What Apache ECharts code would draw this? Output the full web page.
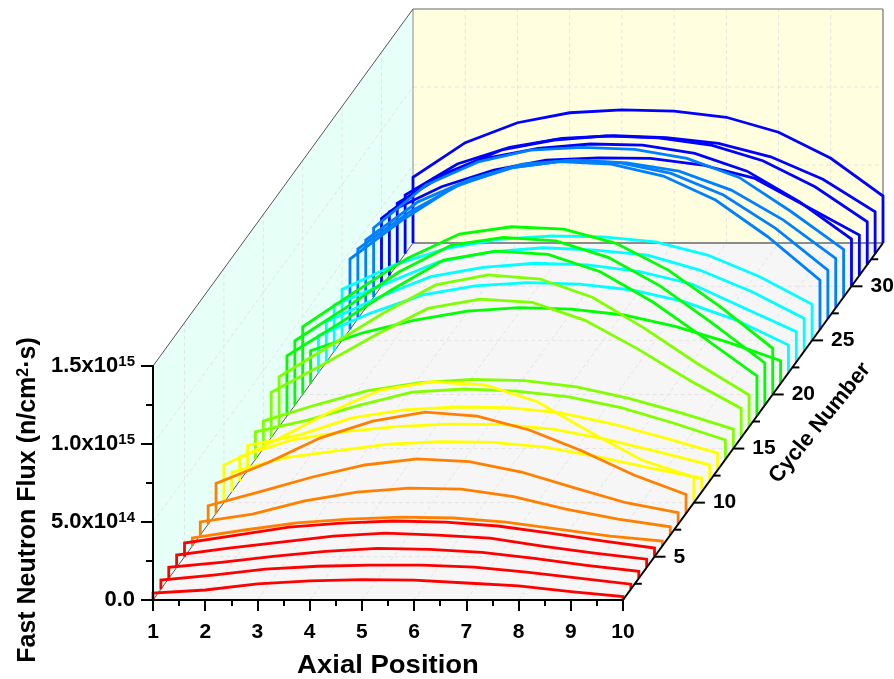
<!DOCTYPE html>
<html>
<head>
<meta charset="utf-8">
<style>html,body{margin:0;padding:0;background:#fff}#c{width:894px;height:679px}</style>
<script src="https://cdn.jsdelivr.net/npm/echarts@6/dist/echarts.min.js"></script>
</head>
<body>
<div id="c"></div>
<script>
// Flux values for each cycle, in units of 1e14 n/cm2/s, axial positions 1..10
const axialPositions = [1,2,3,4,5,6,7,8,9,10];
const cycle1  = [.45,.64,1.03,1.22,1.30,1.28,1.09,.90,.53,.22];
const cycle2  = [.58,.90,1.28,1.47,1.54,1.54,1.41,1.09,.71,.32];
const cycle3  = [.71,1.03,1.41,1.73,1.92,1.86,1.67,1.28,.83,.45];
const cycle4  = [.80,1.25,1.63,2.02,2.21,2.08,1.89,1.38,.93,.54];
const cycle5  = [.88,1.39,1.90,2.16,2.29,2.22,1.97,1.52,1.01,.56];
const cycle6  = [.51,1.02,1.47,1.72,1.85,1.79,1.53,1.08,.63,.31];
const cycle7  = [.85,1.35,2.20,2.76,3.01,2.95,2.46,1.67,1.03,.53];
const cycle8  = [1.19,2.09,3.03,3.80,4.19,4.01,3.35,2.35,1.38,.74];
const cycle9  = [1.92,3.27,4.85,5.92,6.50,6.24,5.35,4.02,2.46,1.22];
const cycle10 = [2.41,4.01,5.76,7.22,7.75,7.54,6.47,4.54,2.73,1.62];
const cycle11 = [1.25,2.17,2.63,3.06,3.21,3.17,2.87,2.25,1.53,.87];
const cycle12 = [1.56,2.63,3.16,3.48,3.65,3.63,3.33,2.69,1.88,1.03];
const cycle13 = [1.57,2.26,3.35,3.86,4.05,4.01,3.67,2.96,2.06,1.10];
const cycle14 = [1.77,2.52,3.48,4.31,4.51,4.38,4.01,3.31,2.33,1.24];
const cycle15 = [1.76,2.79,3.71,4.22,4.44,4.35,3.96,3.22,2.29,1.25];
const cycle16 = [2.91,4.71,6.58,8.29,8.89,8.68,7.54,5.73,3.70,1.88];
const cycle17 = [3.22,5.25,7.30,9.10,9.74,9.48,8.31,6.32,4.08,2.04];
const cycle18 = [3.87,5.94,8.08,10.0,10.58,10.37,9.25,7.33,4.98,2.58];
const cycle19 = [4.13,6.31,8.56,10.27,10.76,10.54,9.48,7.64,5.25,2.72];
const cycle20 = [4.34,6.58,8.72,10.28,10.75,10.60,9.69,7.97,5.62,2.96];
const cycle21 = [2.11,3.26,4.08,4.65,4.87,4.78,4.40,3.65,2.65,1.47];
const cycle22 = [2.38,3.83,4.99,5.58,5.78,5.69,5.31,4.56,3.38,1.78];
const cycle23 = [2.58,4.15,5.47,6.07,6.33,6.22,5.79,5.00,3.46,1.94];
const cycle24 = [2.96,4.35,5.73,6.37,6.63,6.48,6.16,5.20,3.81,2.10];
const cycle25 = [3.27,4.83,5.90,6.47,6.69,6.64,6.32,5.47,4.08,2.31];
const cycle26 = [4.52,7.02,9.15,10.33,10.76,10.61,9.84,8.30,5.95,3.17];
const cycle27 = [4.47,6.86,8.68,9.71,10.13,10.0,9.32,7.93,5.79,3.12];
const cycle28 = [4.35,6.80,8.24,9.22,9.47,9.30,8.77,7.55,5.63,3.17];
const cycle29 = [4.44,7.18,8.67,9.42,9.60,9.47,8.89,7.67,5.47,3.06];
const cycle30 = [4.35,6.92,8.20,8.84,9.12,9.05,8.52,7.38,5.42,3.03];
const cycle31 = [4.08,5.69,6.76,7.40,7.54,7.51,7.08,6.22,4.40,2.59];
const cycle32 = [3.93,5.96,7.35,7.99,8.26,8.13,7.67,6.66,4.99,2.75];
const cycle33 = [3.77,5.76,6.83,7.40,7.57,7.44,7.08,6.22,4.78,2.70];
const cycle34 = [4.21,6.43,7.71,8.35,8.53,8.46,8.06,7.10,5.43,3.01];
const cycles = [cycle1,cycle2,cycle3,cycle4,cycle5,cycle6,cycle7,cycle8,cycle9,cycle10,cycle11,cycle12,
  cycle13,cycle14,cycle15,cycle16,cycle17,cycle18,cycle19,cycle20,cycle21,cycle22,cycle23,cycle24,cycle25,
  cycle26,cycle27,cycle28,cycle29,cycle30,cycle31,cycle32,cycle33,cycle34];
const colourBands = [['#ff0000',5],['#ff8000',4],['#ffff00',4],['#80ff00',4],['#00ff00',4],['#00ffff',4],['#0080ff',4],['#0000ff',5]];
const cycleMajorTicks = [5,10,15,20,25,30];
const cycleMinorTicks = [2.5,7.5,12.5,17.5,22.5,27.5,32.5];
const fluxTicks = [0,5e14,1e15,1.5e15];
const fluxTickLabels = ['0.0','5.0x10^14','1.0x10^15','1.5x10^15'];

const FONT = '"Liberation Sans", Arial, sans-serif';
const FIRST_CYCLE = 1, LAST_CYCLE = 34;
// oblique projection of the third axis onto the plane of the x and y axes
const DEPTH_X = 4.979, DEPTH_Y = 2.288e15;
const SHEAR_X = DEPTH_X / 33, SHEAR_Y = DEPTH_Y / 33;
function project(a, c, v) {
  const d = c - FIRST_CYCLE;
  return [a + d * SHEAR_X, v + d * SHEAR_Y];
}
const colours = [];
colourBands.forEach(([col, n]) => { for (let i = 0; i < n; i++) colours.push(col); });

function polygonChild(api, corners, fill) {
  return { type: 'polygon', shape: { points: corners.map(p => api.coord(project(p[0], p[1], p[2]))) }, style: { fill: fill }, silent: true };
}
function lineChild(api, p, q, stroke, width, dash) {
  const a = api.coord(project(p[0], p[1], p[2])), b = api.coord(project(q[0], q[1], q[2]));
  return { type: 'line', shape: { x1: a[0], y1: a[1], x2: b[0], y2: b[1] },
    style: { stroke: stroke, lineWidth: width, lineDash: dash || null }, silent: true };
}
const A0 = 1, A1 = 10, C0 = FIRST_CYCLE, C1 = LAST_CYCLE, V0 = 0, V1 = 1.5e15;

const wallSeries = {
  type: 'custom', coordinateSystem: 'cartesian2d', xAxisIndex: 1, yAxisIndex: 1, z: -1, silent: true, clip: false, data: [[1, 0]],
  renderItem: function (params, api) {
    const kids = [
      polygonChild(api, [[A0,C0,V0],[A1,C0,V0],[A1,C1,V0],[A0,C1,V0]], '#f6f6f6'),
      polygonChild(api, [[A0,C0,V0],[A0,C1,V0],[A0,C1,V1],[A0,C0,V1]], '#e6fff7'),
      polygonChild(api, [[A0,C1,V0],[A1,C1,V0],[A1,C1,V1],[A0,C1,V1]], '#ffffdf')
    ];
    const gc = '#e4e4e4', dash = [4, 3];
    axialPositions.slice(1, -1).forEach(a => {
      kids.push(lineChild(api, [a,C0,V0], [a,C1,V0], gc, 1, dash));
      kids.push(lineChild(api, [a,C1,V0], [a,C1,V1], gc, 1, dash));
    });
    cycleMajorTicks.forEach(c => {
      kids.push(lineChild(api, [A0,c,V0], [A1,c,V0], gc, 1, dash));
      kids.push(lineChild(api, [A0,c,V0], [A0,c,V1], gc, 1, dash));
    });
    fluxTicks.slice(1, -1).forEach(v => {
      kids.push(lineChild(api, [A0,C0,v], [A0,C1,v], gc, 1, dash));
      kids.push(lineChild(api, [A0,C1,v], [A1,C1,v], gc, 1, dash));
    });
    kids.push(lineChild(api, [A0,C1,V0], [A1,C1,V0], '#8c8c8c', 2));
    kids.push(lineChild(api, [A0,C1,V1], [A1,C1,V1], '#9a9a9a', 1.5));
    kids.push(lineChild(api, [A0,C1,V0], [A0,C1,V1], '#8c8c8c', 1));
    kids.push(lineChild(api, [A1,C1,V0], [A1,C1,V1], '#8c8c8c', 1.5));
    kids.push(lineChild(api, [A0,C0,V1], [A0,C1,V1], '#555555', 1));
    kids.push(lineChild(api, [A0,C0,V0], [A0,C1,V0], '#555555', 1));
    return { type: 'group', children: kids };
  }
};

const depthAxisSeries = {
  type: 'custom', coordinateSystem: 'cartesian2d', xAxisIndex: 1, yAxisIndex: 1, z: 60, silent: true, clip: false, data: [[1, 0]],
  renderItem: function (params, api) {
    const kids = [lineChild(api, [A1,C0,V0], [A1,C1,V0], '#000', 2)];
    const tick = (c, len) => {
      const p = api.coord(project(A1, c, V0));
      kids.push({ type: 'line', shape: { x1: p[0], y1: p[1], x2: p[0] + len, y2: p[1] }, style: { stroke: '#000', lineWidth: 2 }, silent: true });
      return p;
    };
    cycleMinorTicks.forEach(c => tick(c, 7));
    cycleMajorTicks.forEach(c => {
      const p = tick(c, 11);
      kids.push({ type: 'text', silent: true, style: { text: String(c), x: p[0] + 19, y: p[1], fill: '#000',
        fontFamily: FONT, fontWeight: 'bold', fontSize: 21, align: 'left', verticalAlign: 'middle' } });
    });
    return { type: 'group', children: kids };
  }
};

const curveSeries = cycles.map((vals, i) => {
  const c = FIRST_CYCLE + i;
  const pts = [project(axialPositions[0], c, 0)];
  vals.forEach((v, k) => pts.push(project(axialPositions[k], c, v * 1e14)));
  pts.push(project(axialPositions[axialPositions.length - 1], c, 0));
  return {
    name: 'Cycle ' + c, type: 'line', xAxisIndex: 1, yAxisIndex: 1, data: pts, showSymbol: false, symbol: 'none', clip: false,
    z: 40 - i * 0.5, silent: true, lineStyle: { color: colours[i], width: 2.8, join: 'miter', cap: 'butt' }
  };
});

const chart = echarts.init(document.getElementById('c'), null, { renderer: 'canvas', width: 894, height: 679 });
chart.setOption({
  animation: false,
  backgroundColor: '#ffffff',
  tooltip: { show: false },
  grid: [
    { left: 153, top: 366, width: 470, height: 234, containLabel: false, show: false, outerBoundsMode: 'none' },
    { left: 153, top: 9, width: 730, height: 591, containLabel: false, show: false, outerBoundsMode: 'none' }
  ],
  xAxis: [{
    gridIndex: 0, type: 'value', min: 1, max: 10, interval: 1, z: 50,
    axisLine: { show: true, onZero: false, lineStyle: { color: '#000', width: 2 } },
    axisTick: { show: true, inside: false, length: 11, lineStyle: { color: '#000', width: 2 } },
    minorTick: { show: true, splitNumber: 2, length: 6, lineStyle: { color: '#000', width: 2 } },
    splitLine: { show: false },
    axisLabel: { margin: 22, fontFamily: FONT, fontWeight: 'bold', fontSize: 21, color: '#000', showMinLabel: true, showMaxLabel: true,
      hideOverlap: false, formatter: v => String(v) }
  }, {
    gridIndex: 1, type: 'value', min: 1, max: 1 + 9 + DEPTH_X, show: false
  }],
  yAxis: [{
    gridIndex: 0, type: 'value', min: 0, max: 1.5e15, interval: 5e14, z: 50,
    axisLine: { show: true, onZero: false, lineStyle: { color: '#000', width: 2 } },
    axisTick: { show: true, inside: false, length: 12, lineStyle: { color: '#000', width: 2 } },
    minorTick: { show: true, splitNumber: 2, length: 7, lineStyle: { color: '#000', width: 2 } },
    splitLine: { show: false },
    axisLabel: {
      margin: 18, color: '#000', showMinLabel: true, showMaxLabel: true, hideOverlap: false,
      fontFamily: FONT, fontWeight: 'bold', fontSize: 22,
      formatter: v => {
        const t = fluxTickLabels[fluxTicks.indexOf(v)];
        if (!t) return '';
        const parts = t.split('^');
        return parts.length > 1 ? '{b|' + parts[0] + '}{s|' + parts[1] + '}' : '{b|' + parts[0] + '}';
      },
      rich: {
        b: { fontFamily: FONT, fontWeight: 'bold', fontSize: 22, color: '#000' },
        s: { fontFamily: FONT, fontWeight: 'bold', fontSize: 15, color: '#000', padding: [0, 0, 9, 0] }
      }
    }
  }, {
    gridIndex: 1, type: 'value', min: 0, max: 1.5e15 + DEPTH_Y, show: false
  }],
  graphic: [
    { type: 'text', silent: true, x: 28, y: 500, rotation: Math.PI / 2,
      style: { text: '{b|Fast Neutron Flux (n/cm}{s|2}{b|\u00b7s)}', align: 'center', verticalAlign: 'middle',
        rich: { b: { fontFamily: FONT, fontWeight: 'bold', fontSize: 25, fill: '#000' },
                s: { fontFamily: FONT, fontWeight: 'bold', fontSize: 16, fill: '#000', padding: [0, 0, 9, 0] } } } },
    { type: 'text', silent: true, x: 388, y: 666, scaleX: 1.1,
      style: { text: 'Axial Position', align: 'center', verticalAlign: 'middle', fontFamily: FONT, fontWeight: 'bold', fontSize: 25, fill: '#000' } },
    { type: 'text', silent: true, x: 820, y: 423, rotation: 51 * Math.PI / 180,
      style: { text: 'Cycle Number', align: 'center', verticalAlign: 'middle', fontFamily: FONT, fontWeight: 'bold', fontSize: 22, fill: '#000' } }
  ],
  series: [wallSeries].concat(curveSeries, [depthAxisSeries])
});
</script>
</body>
</html>
